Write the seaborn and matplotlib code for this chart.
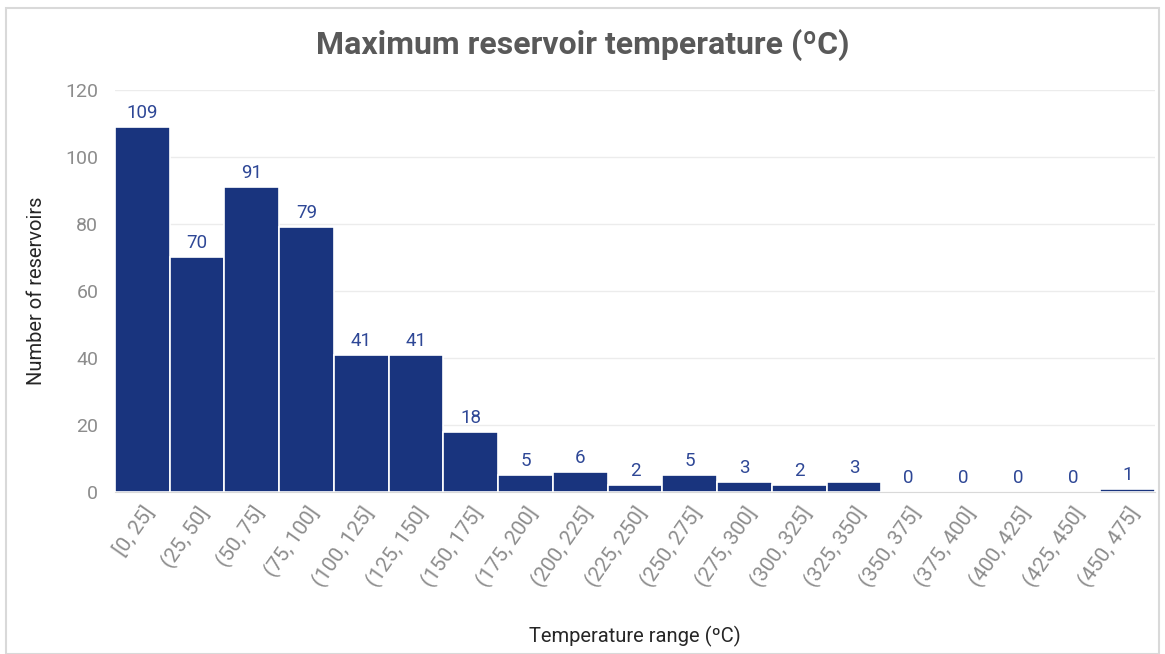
import numpy as np
import pandas as pd
import matplotlib
matplotlib.use('Agg')
import matplotlib.pyplot as plt
import seaborn as sns

# data
bins = ['[0, 25]', '(25, 50]', '(50, 75]', '(75, 100]', '(100, 125]', '(125, 150]',
        '(150, 175]', '(175, 200]', '(200, 225]', '(225, 250]', '(250, 275]',
        '(275, 300]', '(300, 325]', '(325, 350]', '(350, 375]', '(375, 400]',
        '(400, 425]', '(425, 450]', '(450, 475]']
counts = [109, 70, 91, 79, 41, 41, 18, 5, 6, 2, 5, 3, 2, 3, 0, 0, 0, 0, 1]

df = pd.DataFrame({'range': bins, 'count': counts})

sns.set_style('white')
plt.rcParams['font.family'] = ['Roboto', 'DejaVu Sans']

fig = plt.figure(figsize=(11.65, 6.54), dpi=100)
ax = fig.add_axes([0.0987, 0.2477, 0.8927, 0.6147])

bar_col = '#19347e'
sns.barplot(data=df, x='range', y='count', color=bar_col, width=1.0,
            edgecolor='white', linewidth=1.2, saturation=1, ax=ax)

# value labels
for i, v in enumerate(counts):
    ax.text(i, v + 1.5, str(v), ha='center', va='bottom', fontsize=13.5, color='#2e4796')

ax.set_ylim(0, 120)
ax.set_xlim(-0.5, len(bins) - 0.5)
ax.set_yticks(range(0, 121, 20))
ax.yaxis.grid(True, color='#ececec', linewidth=1)
ax.set_axisbelow(True)
for s in ['top', 'right', 'left']:
    ax.spines[s].set_visible(False)
ax.spines['bottom'].set_color('#d9d9d9')
ax.tick_params(axis='y', length=0, labelsize=14, labelcolor='#8c8c8c', pad=12)
ax.tick_params(axis='x', length=0, labelsize=15, labelcolor='#8c8c8c', pad=8)
plt.setp(ax.get_xticklabels(), rotation=55, ha='right', rotation_mode='anchor')

ax.set_xlabel('Temperature range (ºC)', fontsize=14.5, color='#262626', labelpad=25)
ax.set_ylabel('Number of reservoirs', fontsize=14.5, color='#262626', labelpad=14)
fig.suptitle('Maximum reservoir temperature (ºC)', fontsize=23, fontweight='bold',
             color='#595959', y=0.955)

# light chart-area frame
fig.patches.append(plt.Rectangle((0.005, 0.0), 0.99, 0.988, transform=fig.transFigure,
                                 fill=False, edgecolor='#d9d9d9', linewidth=1.5))

fig.savefig('out.png', dpi=100)
